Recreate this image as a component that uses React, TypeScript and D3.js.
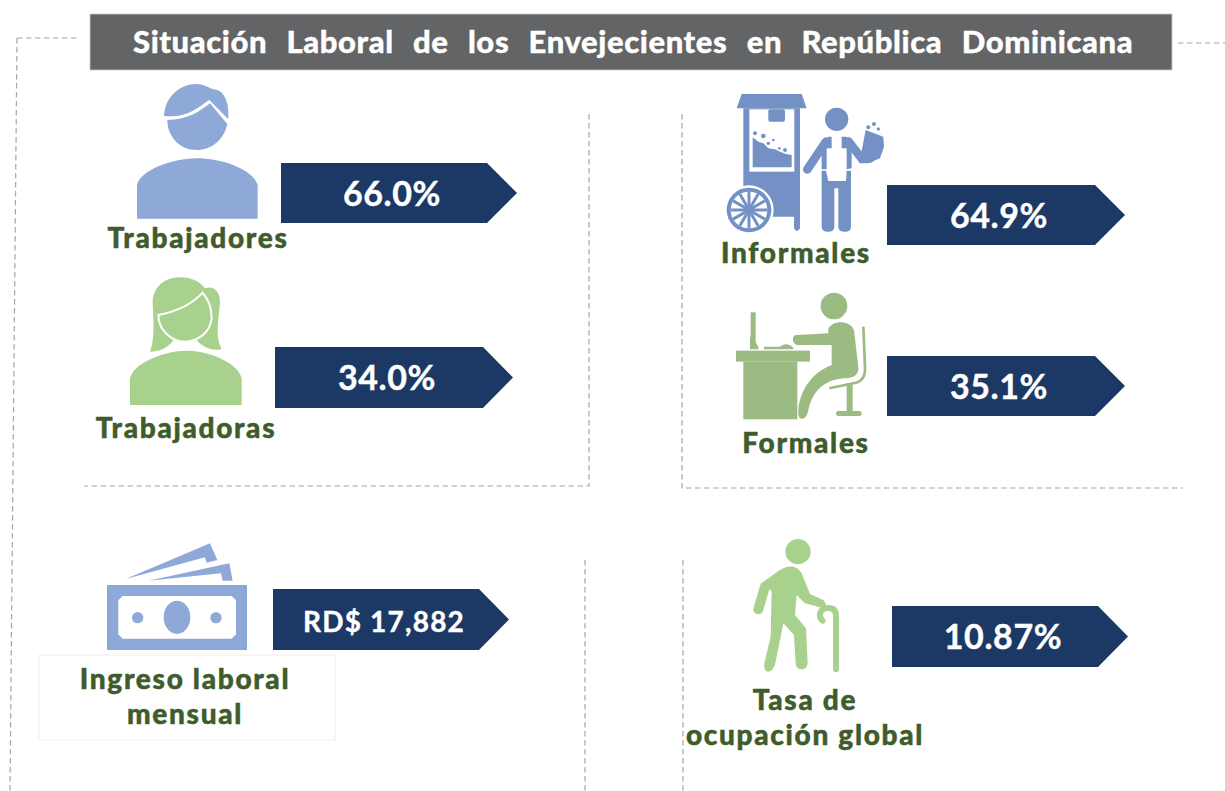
import React from "react";
import * as d3 from "d3";

const title = "Situación Laboral de los Envejecientes en República Dominicana";
const cardLabels = [
  ["Trabajadores"],
  ["Trabajadoras"],
  ["Informales"],
  ["Formales"],
  ["Ingreso laboral", "mensual"],
  ["Tasa de", "ocupación global"],
];
const cardValues = ["66.0%", "34.0%", "64.9%", "35.1%", "RD$ 17,882", "10.87%"];

// x0, x1, y0, y1 of each arrow, then label centre and baseline
const arrowBoxes = [
  [281, 517, 163, 223],
  [275, 513, 347, 408],
  [887, 1125, 185, 245],
  [887, 1125, 356, 416],
  [273, 509, 589, 650],
  [892, 1128, 606, 667],
];
const labelSpots = [
  [198, 248],
  [186, 438],
  [796, 263],
  [806, 453],
  [185, 689],
  [805, 710],
];

const dashes = [
  "M17,38 H80",
  "M17,38 L10,791",
  "M1178,43 H1225",
  "M589,114 V486 H84",
  "M682,114 V488 H1183",
  "M585,560 V791",
  "M683,560 V791",
];

const NAVY = "#1c3864";
const GREEN_TEXT = "#3e5c2c";
const BLUE = "#8ea9d8";
const GREEN = "#a9d18e";

const arrowLine = d3.line();
const arrowPath = ([x0, x1, y0, y1]: number[]) =>
  arrowLine([
    [x0, y0],
    [x1 - 30, y0],
    [x1, (y0 + y1) / 2],
    [x1 - 30, y1],
    [x0, y1],
  ]) + "Z";

const ManIcon = () => (
  <g transform="translate(90,70) scale(0.3333)" fill={BLUE}>
    <path d="M232,150 C290,150 330,125 360,100 L412,162 C400,215 360,240 320,240 C270,240 232,200 232,150Z" />
    <path d="M222,138 C290,145 320,115 358,90 L415,148 C418,90 400,60 370,58 C355,52 340,42 320,42 C270,42 225,80 222,138Z" />
    <path d="M141,446 L141,345 C150,300 250,265 320,265 C400,265 490,300 503,345 L503,446Z" />
  </g>
);

const WomanIcon = () => (
  <g transform="translate(90,70) scale(0.3333)" fill={GREEN}>
    <path d="M180,845 C195,810 190,750 188,700 C188,650 225,622 270,622 C305,622 330,635 345,655 C370,645 392,665 390,700 C385,750 375,800 395,838 C370,842 340,835 320,810 L250,810 C235,835 205,845 180,845Z" />
    <path
      d="M205,735 C260,725 310,700 338,668 C355,690 365,710 365,745 C360,790 320,815 285,815 C245,815 205,780 205,735Z"
      stroke="#fff"
      strokeWidth={6}
    />
    <path d="M120,1005 L120,925 C130,880 220,842 290,842 C360,842 445,880 455,925 L455,1005Z" />
  </g>
);

const VendorIcon = () => {
  const fill = "#7491c5";
  const spokes = d3.range(12).map((i) => (i * Math.PI) / 6);
  return (
    <g transform="translate(700,80) scale(0.3333)" fill={fill}>
      <path d="M110,85 L125,42 L305,42 L320,85Z" />
      <path d="M130,85 H300 V445 Q291,462 282,445 V410 H190 L130,340Z" />
      <rect x={148} y={88} width={135} height={187} fill="#fff" />
      <rect x={205} y={88} width={50} height={37} rx={6} />
      <path d="M158,172 L158,262 L275,262 L275,225 L258,222 L240,215 L225,208 L205,205 L190,190 L175,185Z" />
      {[[165, 160, 6], [190, 168, 7], [220, 180, 4], [205, 190, 5], [255, 210, 6], [238, 205, 4]].map(([cx, cy, r], i) => (
        <circle key={i} cx={cx} cy={cy} r={r} />
      ))}
      <circle cx={147} cy={390} r={74} fill="#fff" />
      <circle cx={147} cy={390} r={67} />
      <circle cx={147} cy={390} r={55} fill="#fff" />
      {spokes.map((a, i) => (
        <line
          key={i}
          x1={147}
          y1={390}
          x2={147 + 55 * Math.cos(a)}
          y2={390 + 55 * Math.sin(a)}
          stroke={fill}
          strokeWidth={9}
        />
      ))}
      <circle cx={147} cy={390} r={14} />
      <circle cx={410} cy={118} r={35} />
      <path d="M385,170 L395,170 L395,205 L380,205 L380,268 L365,268 L365,190Z" />
      <path d="M440,170 L425,170 L425,205 L440,205 L440,268 L455,265 L455,190Z" />
      <path d="M365,272 L378,272 L385,303 L438,303 L440,272 L453,272 L453,440 Q453,455 435,455 Q415,455 415,440 L415,325 L403,325 L403,440 Q403,455 385,455 Q365,455 365,440Z" />
      <path d="M378,185 L322,268" stroke={fill} strokeWidth={26} strokeLinecap="round" />
      <path d="M446,185 L485,235 L510,235" stroke={fill} strokeWidth={26} strokeLinecap="round" fill="none" />
      <path d="M497,150 L550,170 L552,200 L540,235 L505,250 L478,250Z" />
      {[[505, 142, 6], [522, 132, 6], [535, 147, 5]].map(([cx, cy, r], i) => (
        <circle key={i} cx={cx} cy={cy} r={r} />
      ))}
    </g>
  );
};

const DeskIcon = () => {
  const fill = "#9bbb82";
  return (
    <g transform="translate(700,80) scale(0.3333)" fill={fill}>
      <circle cx={402} cy={678} r={40} />
      <rect x={152} y={697} width={15} height={93} />
      <path d="M150,770 L158,770 L175,800 L175,808 L150,808Z" />
      <path d="M192,800 H240 Q260,785 280,803 V808 H192Z" />
      <rect x={108} y={812} width={222} height={33} />
      <rect x={130} y={845} width={162} height={173} />
      <path d="M385,745 C400,720 450,720 462,750 L475,860 C478,885 460,895 430,895 C380,900 340,925 325,990 C320,1022 295,1025 295,1000 C295,940 330,880 395,855 L395,795 L290,795 C275,790 275,765 290,765 L385,760Z" />
      <path d="M490,740 L495,860 Q498,905 460,910 L388,925" fill="none" stroke={fill} strokeWidth={8} />
      <rect x={440} y={910} width={18} height={90} />
      <rect x={408} y={993} width={77} height={15} rx={7} />
    </g>
  );
};

const MoneyIcon = () => (
  <g transform="translate(30,530) scale(0.3333)" fill={BLUE}>
    <path d="M287,147 L540,40 L562,90 L530,98 L525,82Z" />
    <path d="M355,152 L598,100 L608,152 L578,152 L573,130Z" />
    <rect x={233} y={167} width={416} height={191} stroke="#6fa0d8" strokeWidth={3} />
    <path d="M278,198 H605 L618,211 V313 L605,326 H278 L265,313 V211Z" fill="#fff" />
    <ellipse cx={441} cy={262} rx={40} ry={50} />
    <circle cx={323} cy={263} r={17} />
    <circle cx={558} cy={263} r={17} />
  </g>
);

const ElderIcon = () => (
  <g transform="translate(680,530) scale(0.3333)" fill={GREEN}>
    <circle cx={354} cy={65} r={38} />
    <path d="M250,155 L300,120 Q345,95 365,130 L390,192 L430,210 Q445,225 430,235 L375,220 L350,195 L345,255 L378,295 L383,400 Q380,418 365,418 Q348,418 347,400 L342,315 L310,280 L285,405 Q275,428 262,425 Q250,420 253,400 L272,320 L275,185Z" />
    <path d="M255,170 L235,238" stroke={GREEN} strokeWidth={30} strokeLinecap="round" fill="none" />
    <path d="M428,272 Q418,265 420,250 Q425,234 445,234 Q468,234 468,257 L468,418" stroke={GREEN} strokeWidth={18} strokeLinecap="round" fill="none" />
  </g>
);

export default function App() {
  return (
    <svg
      width={1225}
      height={791}
      style={{ position: "absolute", left: 0, top: 0, fontFamily: "Lato, sans-serif" }}
    >
      <rect width={1225} height={791} fill="#fff" />
      {dashes.map((d) => (
        <path key={d} d={d} fill="none" stroke="#a6a6a6" strokeWidth={1.2} strokeDasharray="5.5 3.5" />
      ))}

      <rect x={90} y={14} width={1082} height={56} fill="#636466" stroke="#c8c8c8" strokeWidth={0.8} />
      <text
        x={133}
        y={53}
        fill="#fff"
        stroke="#fff"
        strokeWidth={0.4}
        fontSize={31}
        fontWeight={900}
        letterSpacing={0.6}
        style={{ wordSpacing: "11.4px" }}
      >
        {title}
      </text>

      <rect x={39} y={655} width={296} height={85} fill="#fff" stroke="#eeeeee" />

      <ManIcon />
      <WomanIcon />
      <VendorIcon />
      <DeskIcon />
      <MoneyIcon />
      <ElderIcon />

      {cardValues.map((v, i) => {
        const box = arrowBoxes[i];
        return (
          <g key={v}>
            <path d={arrowPath(box)} fill={NAVY} />
            <text
              x={(box[0] + box[1]) / 2 - 7}
              y={(box[2] + box[3]) / 2 + 12.5}
              fill="#fff"
              stroke="#fff"
              strokeWidth={0.4}
              fontSize={i === 4 ? 28 : 34}
              fontWeight={700}
              letterSpacing={i === 4 ? 1.2 : 0.6}
              textAnchor="middle"
            >
              {v}
            </text>
          </g>
        );
      })}

      {cardLabels.map((lines, i) => (
        <text
          key={lines[0]}
          x={labelSpots[i][0]}
          y={labelSpots[i][1]}
          fill={GREEN_TEXT}
          stroke={GREEN_TEXT}
          strokeWidth={0.5}
          fontSize={28}
          fontWeight={900}
          letterSpacing={1.7}
          textAnchor="middle"
        >
          {lines.map((line, j) => (
            <tspan key={line} x={labelSpots[i][0]} dy={j === 0 ? 0 : 35}>
              {line}
            </tspan>
          ))}
        </text>
      ))}
    </svg>
  );
}
